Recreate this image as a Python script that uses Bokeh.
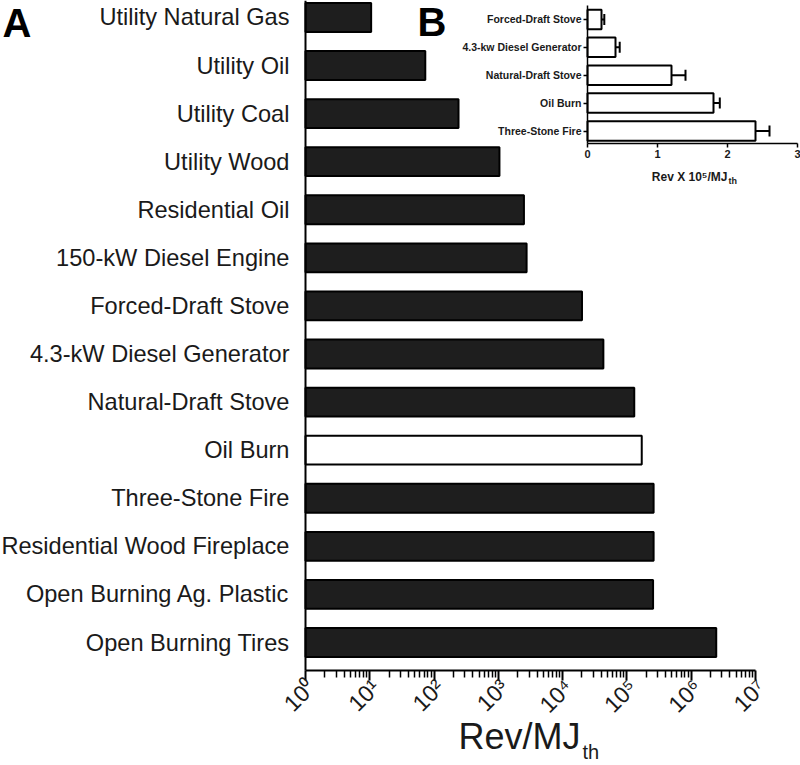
import math
from bokeh.plotting import figure
from bokeh.models import (Range1d, FixedTicker, ColumnDataSource, LinearAxis,
                          LogAxis, LinearScale)
from bokeh.core.properties import value
from bokeh.embed import file_html
from bokeh.resources import INLINE

# ---------------- data ----------------
main_categories = [
    "Utility Natural Gas", "Utility Oil", "Utility Coal", "Utility Wood",
    "Residential Oil", "150-kW Diesel Engine", "Forced-Draft Stove",
    "4.3-kW Diesel Generator", "Natural-Draft Stove", "Oil Burn",
    "Three-Stone Fire", "Residential Wood Fireplace",
    "Open Burning Ag. Plastic", "Open Burning Tires",
]
main_values = [10.5, 73, 240, 1040, 2500, 2750, 20000, 43000,
               130000, 170000, 260000, 260000, 255000, 2450000]
open_bar = ["Oil Burn"]

x_tick_values = [1, 10, 100, 1000, 10000, 100000, 1000000, 10000000]
x_tick_labels = ["10⁰", "10¹", "10²", "10³", "10⁴", "10⁵", "10⁶", "10⁷"]

inset_categories = ["Forced-Draft Stove", "4.3-kw Diesel Generator",
                    "Natural-Draft Stove", "Oil Burn", "Three-Stone Fire"]
inset_values = [0.2, 0.4, 1.2, 1.8, 2.4]
inset_errors = [0.04, 0.06, 0.2, 0.09, 0.2]
inset_ticks = [0, 1, 2, 3]

FONT = "Liberation Sans"
INK = "#1a1a1a"

# ---------------- layout geometry (pixel grid 800 x 765) ----------------
W, H = 800, 765

def fs(px):
    return "%.1fpx" % px

def lift(ry, size):
    # text glyph baseline correction (baseline sits ~0.4 em below the anchor)
    return ry - 0.4 * size

DEC = 450 / 7.0                      # px per decade in the main chart
ROW = 48.08                          # px per category row in the main chart
def xd(rx): return 10 ** ((rx - 305) / DEC)
def yd(ry): return (642 - ry) / ROW
IXP, IYP = 70.0, 27.9                # px per unit / per row in the inset
def ixd(rx): return (rx - 587) / IXP
def iyd(ry): return (130.5 - ry) / IYP

# ---------------- figure: the frame covers the whole canvas ----------------
p = figure(width=W, height=H, x_axis_type="log",
           x_range=Range1d(xd(0), xd(W)), y_range=Range1d(yd(H), yd(0)),
           output_backend="svg", toolbar_location=None,
           min_border_left=0, min_border_right=0,
           min_border_top=0, min_border_bottom=0)
p.title.visible = False
p.outline_line_color = None
p.xgrid.visible = False
p.ygrid.visible = False
p.extra_x_ranges = {"ix": Range1d(ixd(0), ixd(W))}
p.extra_y_ranges = {"iy": Range1d(iyd(H), iyd(0))}
p.extra_x_scales = {"ix": LinearScale()}
p.extra_y_scales = {"iy": LinearScale()}

# ---------------- main chart (A) ----------------
n = len(main_categories)
ypos = [n - 1 - i for i in range(n)]
fills = ["white" if c in open_bar else "#1e1e1e" for c in main_categories]
src = ColumnDataSource(dict(y=ypos, right=main_values, left=[1] * n,
                            fill=fills, cat=main_categories))
p.hbar(y="y", left="left", right="right", height=0.6, fill_color="fill",
       line_color="black", line_width=2, source=src)

ya = p.left[0]
ya.fixed_location = x_tick_values[0]
ya.bounds = (yd(670), yd(0))
ya.ticker = FixedTicker(ticks=ypos)
ya.major_label_overrides = {y: c for y, c in zip(ypos, main_categories)}
ya.major_tick_line_color = None
ya.minor_tick_line_color = None
ya.axis_line_width = 2
ya.axis_line_color = "black"
ya.major_label_text_font = FONT
ya.major_label_text_font_size = fs(23.6)
ya.major_label_text_color = INK
ya.major_label_standoff = 10

# x axis: line + ticks
xa = p.below[0]
xa.fixed_location = yd(670)
xa.bounds = (x_tick_values[0], x_tick_values[-1])
minor = [m * v for v in x_tick_values[:-1] for m in range(2, 10)]
xa.ticker = FixedTicker(ticks=x_tick_values, minor_ticks=minor)
xa.major_label_text_color = None
xa.axis_line_width = 2
xa.axis_line_color = "black"
xa.major_tick_out = 10
xa.major_tick_in = 0
xa.major_tick_line_width = 2
xa.major_tick_line_color = "black"
xa.minor_tick_out = 7
xa.minor_tick_in = 0
xa.minor_tick_line_width = 1.5
xa.minor_tick_line_color = "black"

# x axis tick labels, set a few px to the right of each tick as in the figure
shift = 10 ** (6 / DEC)
label_pos = [v * shift for v in x_tick_values]
xl = LogAxis(fixed_location=yd(670), bounds=(label_pos[0], label_pos[-1]))
xl.ticker = FixedTicker(ticks=label_pos, minor_ticks=[])
xl.major_label_overrides = {v: s for v, s in zip(label_pos, x_tick_labels)}
xl.major_label_orientation = math.pi / 4
xl.major_label_text_font = FONT
xl.major_label_text_font_size = fs(23)
xl.major_label_text_color = INK
xl.major_label_standoff = 3
xl.major_tick_out = 10
xl.major_tick_in = 0
xl.axis_line_color = None
xl.major_tick_line_color = None
xl.minor_tick_line_color = None
p.add_layout(xl, "below")

txt = dict(text_font=value(FONT), text_baseline="alphabetic", text_align="left")
p.text(x=[xd(2)], y=[yd(lift(38, 40))], text=["A"], text_font_size=fs(40),
       text_font_style="bold", text_color="black", **txt)
p.text(x=[xd(417)], y=[yd(lift(37, 40))], text=["B"], text_font_size=fs(40),
       text_font_style="bold", text_color="black", **txt)
p.text(x=[xd(458)], y=[yd(lift(750, 36))], text=["Rev/MJ"], text_font_size=fs(36),
       text_color=INK, **txt)
p.text(x=[xd(582)], y=[yd(lift(759, 20))], text=["th"], text_font_size=fs(20),
       text_color=INK, **txt)

# ---------------- inset chart (B) ----------------
m = len(inset_categories)
iy = [m - 1 - i for i in range(m)]
isrc = ColumnDataSource(dict(y=iy, cat=inset_categories, val=inset_values,
                             hi=[v + e for v, e in zip(inset_values, inset_errors)],
                             zero=[0] * m))
kw = dict(x_range_name="ix", y_range_name="iy")

p.hbar(y="y", left="zero", right="val", height=0.7, fill_color="white",
       line_color="black", line_width=2, source=isrc, **kw)
p.segment(x0="val", x1="hi", y0="y", y1="y", line_color="black",
          line_width=2, source=isrc, **kw)
p.scatter(x="hi", y="y", marker="dash", angle=math.pi / 2, size=11,
          line_color="black", line_width=2, source=isrc, **kw)

iax = LinearAxis(**kw)
iax.fixed_location = iyd(143.3)
iax.bounds = (inset_ticks[0], inset_ticks[-1])
iax.ticker = FixedTicker(ticks=inset_ticks)
iax.minor_tick_line_color = None
iax.major_tick_out = 4
iax.major_tick_in = 0
iax.major_tick_line_width = 1.5
iax.axis_line_width = 1.5
iax.major_label_text_font = FONT
iax.major_label_text_font_style = "bold"
iax.major_label_text_font_size = fs(11)
iax.major_label_text_color = INK
iax.major_label_standoff = 2
p.add_layout(iax, "below")

iay = LinearAxis(**kw)
iay.fixed_location = inset_ticks[0]
iay.bounds = (iyd(143.3), iyd(5))
iay.ticker = FixedTicker(ticks=iy)
iay.major_label_overrides = {y: c for y, c in zip(iy, inset_categories)}
iay.minor_tick_line_color = None
iay.major_tick_out = 4
iay.major_tick_in = 0
iay.major_tick_line_width = 1.5
iay.axis_line_width = 1.5
iay.major_label_text_font = FONT
iay.major_label_text_font_style = "bold"
iay.major_label_text_font_size = fs(10.5)
iay.major_label_text_color = INK
iay.major_label_standoff = 2
p.add_layout(iay, "left")

p.text(x=[ixd(727)], y=[iyd(lift(181, 12))], text=["Rev X 10⁵/MJ"],
       text_font=value(FONT), text_baseline="alphabetic", text_align="right",
       text_font_style="bold", text_font_size=fs(12), text_color=INK, **kw)
p.text(x=[ixd(728)], y=[iyd(lift(184, 9))], text=["th"], text_font=value(FONT),
       text_baseline="alphabetic", text_align="left", text_font_style="bold",
       text_font_size=fs(9), text_color=INK, **kw)

open("out.html", "w").write(file_html(p, INLINE))
